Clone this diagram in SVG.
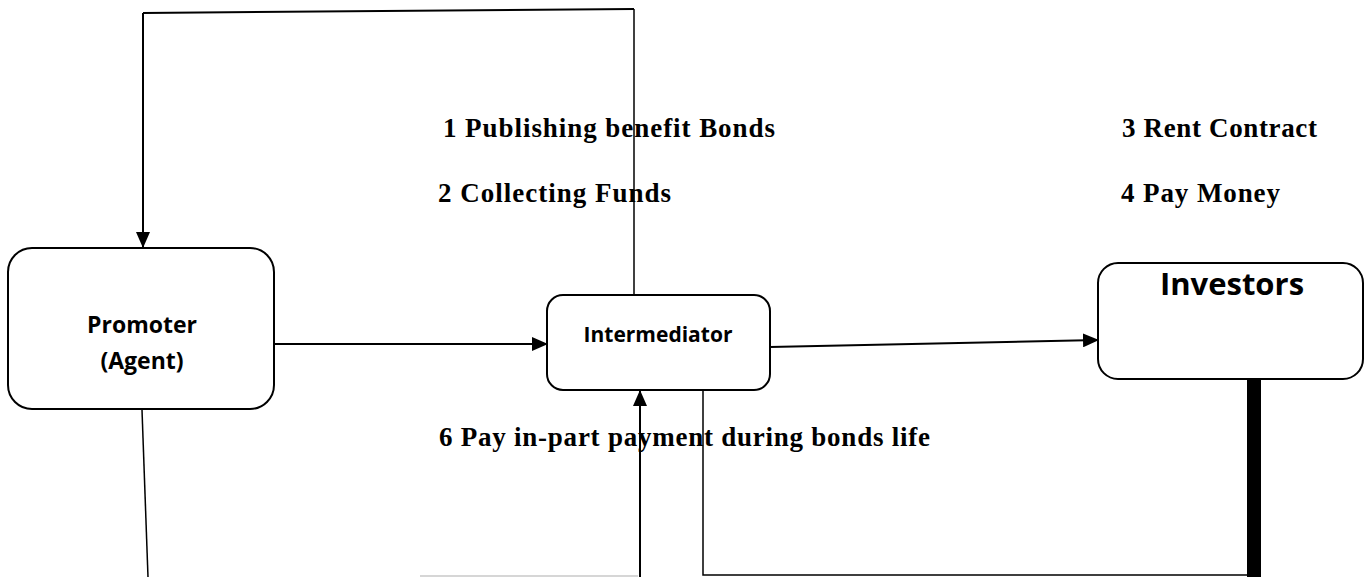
<svg xmlns="http://www.w3.org/2000/svg" width="1364" height="577" viewBox="0 0 1364 577">
  <style>
    .box { fill: #ffffff; stroke: #000000; stroke-width: 2; }
    .node { font-family: "Open Sans", "Liberation Sans", sans-serif; font-weight: bold; fill: #000000; text-anchor: middle; }
    .lbl { font-family: "Liberation Serif", "Times New Roman", serif; font-weight: bold; font-size: 27px; fill: #000000; }
    .ln { fill: none; stroke: #000000; stroke-width: 2; }
    .thin { fill: none; stroke: #000000; stroke-width: 1.5; }
  </style>
  <defs>
    <marker id="arr" markerUnits="userSpaceOnUse" markerWidth="16" markerHeight="14" refX="15" refY="7" orient="auto">
      <path d="M0,0 L16,7 L0,14 Z" fill="#000000"/>
    </marker>
  </defs>

  <rect width="1364" height="577" fill="#ffffff"/>

  <g id="connectors">
    <polyline class="thin" points="634,295 634,9"/>
    <line class="ln" x1="634" y1="9" x2="143" y2="13"/>
    <line class="ln" x1="143" y1="13" x2="143" y2="247" marker-end="url(#arr)"/>
    <line class="ln" x1="274" y1="344" x2="547" y2="344" marker-end="url(#arr)"/>
    <line class="ln" x1="770" y1="347" x2="1098" y2="340" marker-end="url(#arr)"/>
    <line class="thin" x1="142" y1="410" x2="148" y2="577"/>
    <line x1="420" y1="576" x2="638" y2="576" stroke="#c8c8c8" stroke-width="1.5"/>
    <line class="ln" x1="640" y1="577" x2="640" y2="391" marker-end="url(#arr)"/>
    <polyline class="thin" points="703,390 703,575 1248,575"/>
    <rect x="1247" y="379" width="14" height="198" fill="#000000"/>
  </g>

  <g id="promoter">
    <rect class="box" x="8" y="248" width="266" height="161" rx="24" ry="24"/>
    <text class="node" x="142" y="333" font-size="23">Promoter</text>
    <text class="node" x="142" y="369" font-size="23">(Agent)</text>
  </g>

  <g id="intermediator">
    <rect class="box" x="547" y="295" width="223" height="95" rx="16" ry="16"/>
    <text class="node" x="658" y="342" font-size="21">Intermediator</text>
  </g>

  <g id="investors">
    <rect class="box" x="1098" y="263" width="265" height="116" rx="20" ry="20"/>
    <text class="node" x="1232" y="295" font-size="31">Investors</text>
  </g>

  <g id="labels">
    <text class="lbl" x="443" y="137" textLength="332" lengthAdjust="spacing">1 Publishing benefit Bonds</text>
    <text class="lbl" x="438" y="202" textLength="233" lengthAdjust="spacing">2 Collecting Funds</text>
    <text class="lbl" x="1122" y="137" textLength="195" lengthAdjust="spacing">3 Rent Contract</text>
    <text class="lbl" x="1121" y="202" textLength="159" lengthAdjust="spacing">4 Pay Money</text>
    <text class="lbl" x="439" y="446" textLength="491" lengthAdjust="spacing">6 Pay in-part payment during bonds life</text>
  </g>
</svg>
